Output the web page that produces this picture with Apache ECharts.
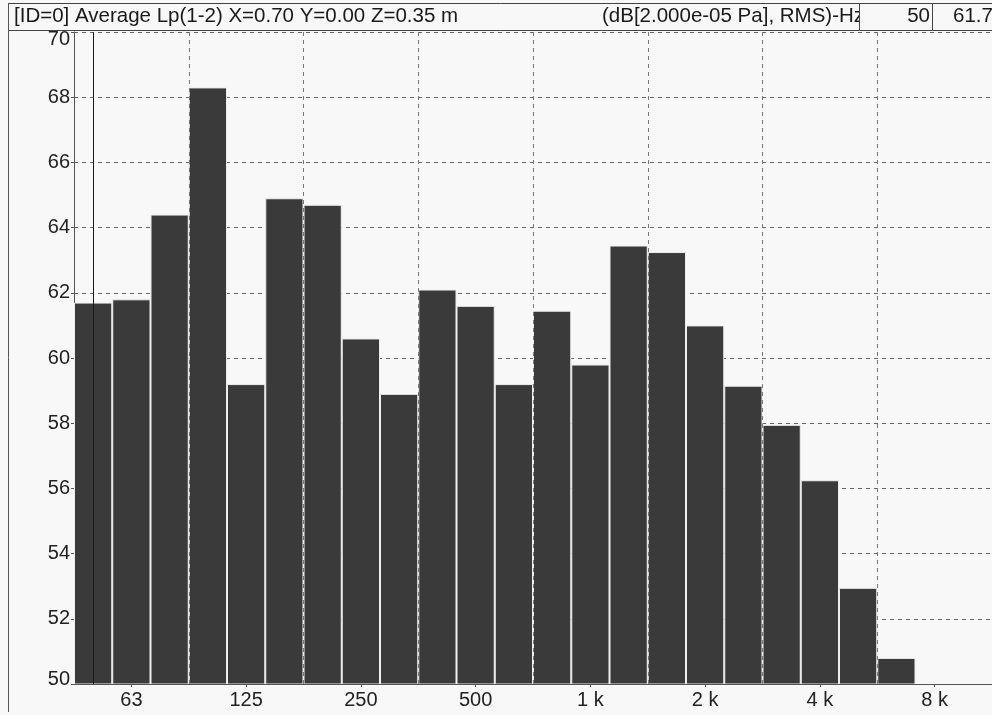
<!DOCTYPE html>
<html>
<head>
<meta charset="utf-8">
<script src="https://cdn.jsdelivr.net/npm/echarts@6/dist/echarts.min.js"></script>
<style>
  html, body { margin: 0; padding: 0; background: #f8f8f8; }
  #chart { width: 992px; height: 715px; }
</style>
</head>
<body>
<div id="chart"></div>
<script>
// 1/3-octave band centre frequencies (Hz)
const bands = ['50', '63', '80', '100', '125', '160', '200', '250', '315', '400',
  '500', '630', '800', '1 k', '1.25 k', '1.6 k', '2 k', '2.5 k', '3.15 k', '4 k',
  '5 k', '6.3 k', '8 k', '10 k'];

// Averaged sound pressure level per band, dB re 20 µPa (RMS)
const levels = [61.7, 61.8, 64.4, 68.3, 59.2, 64.9, 64.7, 60.6, 58.9, 62.1,
  61.6, 59.2, 61.45, 59.8, 63.45, 63.25, 61.0, 59.15, 57.95, 56.25,
  52.95, 50.8, null, null];

// Labelled bands on the frequency axis (one per octave)
const octaveLabels = ['63', '125', '250', '500', '1 k', '2 k', '4 k', '8 k'];

const headerText = '[ID=0] Average Lp(1-2) X=0.70 Y=0.00 Z=0.35 m';
const unitText = '(dB[2.000e-05 Pa], RMS)-Hz';
const cursorBand = '50';
const cursorValue = '61.7';

const yMin = 50, yMax = 70, yStep = 2;

const font = 'Liberation Sans, Arial, sans-serif';
const headFont = '20.5px ' + font;
const chart = echarts.init(document.getElementById('chart'), null, { renderer: 'canvas' });

chart.setOption({
  backgroundColor: '#f8f8f8',
  animation: false,
  grid: { left: 74, top: 32, width: 924, height: 652, containLabel: false },
  xAxis: {
    type: 'category',
    data: bands,
    boundaryGap: true,
    z: 3,
    axisLine: { show: true, lineStyle: { color: '#555', width: 1 } },
    axisTick: {
      show: true, alignWithLabel: true, length: 3,
      interval: (i) => octaveLabels.includes(bands[i]),
      lineStyle: { color: '#555' }
    },
    axisLabel: {
      interval: (i) => octaveLabels.includes(bands[i]),
      color: '#222', fontFamily: font, fontSize: 20, margin: 6
    },
    splitLine: {
      show: true,
      interval: (i) => i > 0 && i % 3 === 0,
      lineStyle: { color: '#777', type: [4, 4], width: 1 }
    }
  },
  yAxis: {
    type: 'value',
    min: yMin, max: yMax, interval: yStep,
    axisLine: { show: true, lineStyle: { color: '#555', width: 1 } },
    axisTick: { show: true, length: 3, lineStyle: { color: '#555' } },
    axisLabel: {
      color: '#222', fontFamily: font, fontSize: 20, margin: 4,
      formatter: (v) => v === yMax ? '{top|' + v + '}' : (v === yMin ? '{bot|' + v + '}' : String(v)),
      rich: {
        top: { fontFamily: font, fontSize: 20, color: '#222', padding: [15, 0, 0, 0] },
        bot: { fontFamily: font, fontSize: 20, color: '#222', padding: [0, 0, 9, 0] }
      }
    },
    splitLine: { show: true, lineStyle: { color: '#666', type: [4, 4], width: 1 } }
  },
  series: [{
    type: 'bar',
    data: levels,
    barCategoryGap: '0%',
    itemStyle: { color: '#3a3a3a', borderColor: '#eeeeee', borderWidth: 1 },
    markLine: {
      silent: true,
      symbol: ['none', 'none'],
      label: { show: false },
      lineStyle: { color: '#1a1a1a', width: 1, type: 'solid' },
      data: [{ xAxis: cursorBand }]
    }
  }],
  graphic: [
    // header row frame
    { type: 'rect', left: 8, top: 3, shape: { x: 0, y: 0, width: 1000, height: 27 },
      style: { fill: '#f8f8f8', stroke: '#444', lineWidth: 1 }, z: 10 },
    { type: 'text', left: 14, top: 6,
      style: { text: headerText, font: headFont, fill: '#1a1a1a' }, z: 11 },
    { type: 'text', left: 602, top: 6,
      style: { text: unitText, font: headFont, fill: '#1a1a1a' }, z: 11 },
    // readout cells (cover the overflowing unit text)
    { type: 'rect', left: 859, top: 3, shape: { x: 0, y: 0, width: 73, height: 27 },
      style: { fill: '#f8f8f8', stroke: '#444', lineWidth: 1 }, z: 12 },
    { type: 'rect', left: 932, top: 3, shape: { x: 0, y: 0, width: 80, height: 27 },
      style: { fill: '#f8f8f8', stroke: '#444', lineWidth: 1 }, z: 12 },
    { type: 'text', right: 992 - 930, top: 6,
      style: { text: cursorBand, font: headFont, fill: '#1a1a1a', align: 'right' }, z: 13 },
    { type: 'text', left: 953, top: 6,
      style: { text: cursorValue, font: headFont, fill: '#1a1a1a' }, z: 13 },
    // outer left frame
    { type: 'line', shape: { x1: 8.5, y1: 3, x2: 8.5, y2: 712 },
      style: { stroke: '#555', lineWidth: 1 }, z: 10 }
  ]
});
</script>
</body>
</html>
